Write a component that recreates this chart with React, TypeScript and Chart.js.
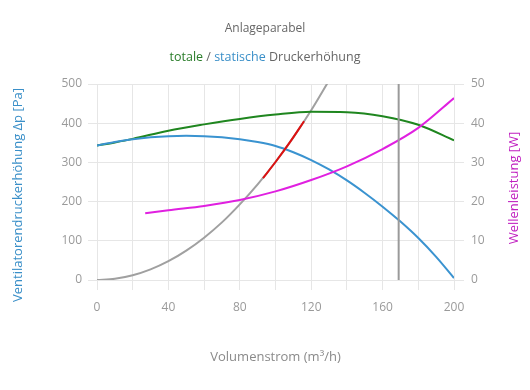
import React, { useEffect, useRef } from "react";
import { Chart, registerables } from "chart.js";

Chart.register(...registerables);

const chartTitle = "Anlageparabel";
const subtitleParts = [
  { text: "totale", color: "#2a7d2a" },
  { text: " / ", color: "#666666" },
  { text: "statische", color: "#3a8fc8" },
  { text: " Druckerhöhung", color: "#666666" },
];
const xTitle = "Volumenstrom (m³/h)";
const leftTitle = "Ventilatorendruckerhöhung Δp [Pa]";
const rightTitle = "Wellenleistung [W]";

const totalQ = [0, 10, 20, 40, 60, 80, 100, 120, 140, 160, 180, 200];
const totalPressure = [343, 351, 360, 381, 397, 411, 422, 429, 428, 418, 396, 356];

const staticQ = [0, 10, 20, 30, 40, 50, 60, 70, 80, 90, 100, 110, 120, 130, 140, 150, 160, 170, 180, 190, 200];
const staticPressure = [343, 352, 359, 364, 367, 368, 367, 364, 359, 352, 342, 326, 306, 282, 254, 222, 187, 149, 107, 59, 5];

const powerQ = [27, 40, 60, 80, 100, 120, 140, 160, 180, 200];
const shaftPower = [17.0, 17.8, 18.9, 20.4, 22.6, 25.5, 29.0, 33.4, 38.8, 46.4];

const systemQ = [0, 10, 20, 30, 40, 50, 60, 70, 80, 90, 100, 110, 120, 130];
const systemPressure = [0, 3, 12, 27, 48, 75, 108, 147, 193, 244, 301, 364, 433, 509];

const rangeQ = [93, 100, 108, 116];
const rangePressure = [260, 301, 351, 405];

const markerQ = 169;
const markerY = [0, 500];

const xLabelTicks = [0, 40, 80, 120, 160, 200];

const FONT = "'Open Sans', 'Noto Sans', sans-serif";

const pts = (xs: number[], ys: number[]) => xs.map((x, i) => ({ x, y: ys[i] }));

const titlePlugin = {
  id: "customTitles",
  afterDraw(chart: any) {
    const ctx = chart.ctx;
    const cx = chart.width / 2;
    ctx.save();
    ctx.textBaseline = "middle";
    ctx.font = `12px ${FONT}`;
    ctx.fillStyle = "#666666";
    ctx.textAlign = "center";
    ctx.fillText(chartTitle, cx, 21);
    ctx.font = `12.5px ${FONT}`;
    const widths = subtitleParts.map((p) => ctx.measureText(p.text).width);
    const total = widths.reduce((a, b) => a + b, 0);
    let x = cx - total / 2;
    ctx.textAlign = "left";
    subtitleParts.forEach((p, i) => {
      ctx.fillStyle = p.color;
      ctx.fillText(p.text, x, 49);
      x += widths[i];
    });
    ctx.font = `13px ${FONT}`;
    ctx.textAlign = "center";
    ctx.save();
    ctx.translate(10, 187);
    ctx.rotate(-Math.PI / 2);
    ctx.fillStyle = "#3a8fc8";
    ctx.fillText(leftTitle, 0, 0);
    ctx.restore();
    ctx.save();
    ctx.translate(506, 180);
    ctx.rotate(-Math.PI / 2);
    ctx.fillStyle = "#c020c0";
    ctx.fillText(rightTitle, 0, 0);
    ctx.restore();
    ctx.restore();
  },
};

export default function App() {
  const ref = useRef<HTMLCanvasElement | null>(null);
  useEffect(() => {
    if (!ref.current) return;
    const line = { pointRadius: 0, borderWidth: 2, fill: false, cubicInterpolationMode: "monotone" };
    const chart = new Chart(ref.current, {
      type: "line",
      data: {
        datasets: [
          { ...line, label: "marker", data: pts([markerQ, markerQ], markerY), borderColor: "#9a9a9a", cubicInterpolationMode: "default", tension: 0, yAxisID: "y" },
          { ...line, label: "range", data: pts(rangeQ, rangePressure), borderColor: "#dd1111", yAxisID: "y" },
          { ...line, label: "power", data: pts(powerQ, shaftPower), borderColor: "#e020e0", yAxisID: "y1" },
          { ...line, label: "static", data: pts(staticQ, staticPressure), borderColor: "#3a93d0", yAxisID: "y" },
          { ...line, label: "total", data: pts(totalQ, totalPressure), borderColor: "#1f861f", yAxisID: "y" },
          { ...line, label: "system", data: pts(systemQ, systemPressure), borderColor: "#a0a0a0", yAxisID: "y" },
        ],
      },
      options: {
        animation: false,
        responsive: true,
        maintainAspectRatio: false,
        layout: { padding: { top: 76, left: 0, right: 0, bottom: 0 } },
        plugins: { legend: { display: false }, title: { display: false }, tooltip: { enabled: false } },
        scales: {
          x: {
            type: "linear",
            min: 0,
            max: 200,
            afterFit: (s: any) => { s.height = 102; },
            ticks: {
              stepSize: 20,
              autoSkip: false,
              maxRotation: 0,
              color: "#9a9a9a",
              padding: 10,
              font: { family: FONT, size: 12 },
              callback: (v: any) => (xLabelTicks.includes(Number(v)) ? String(v) : ""),
            },
            grid: { color: "#e6e6e6", tickLength: 10 },
            border: { color: "#e6e6e6" },
            title: { display: true, text: xTitle, color: "#8a8a8a", font: { family: FONT, size: 13 }, padding: { bottom: 17 } },
          },
          y: {
            position: "left",
            min: 0,
            max: 500,
            afterFit: (s: any) => { s.width = 89; },
            ticks: { stepSize: 100, color: "#9a9a9a", padding: 6, font: { family: FONT, size: 12 } },
            grid: { color: "#e6e6e6", tickLength: 9 },
            border: { color: "#e6e6e6" },
            title: { display: false },
          },
          y1: {
            position: "right",
            min: 0,
            max: 50,
            afterFit: (s: any) => { s.width = 68; },
            ticks: { stepSize: 10, color: "#9a9a9a", padding: 7, font: { family: FONT, size: 12 } },
            grid: { drawOnChartArea: false, color: "#e6e6e6", tickLength: 10 },
            border: { color: "#e6e6e6" },
            title: { display: false },
          },
        },
      },
      plugins: [titlePlugin],
    } as any);
    return () => chart.destroy();
  }, []);
  return (
    <div style={{ width: 514, height: 374, position: "relative" }}>
      <canvas ref={ref} />
    </div>
  );
}
